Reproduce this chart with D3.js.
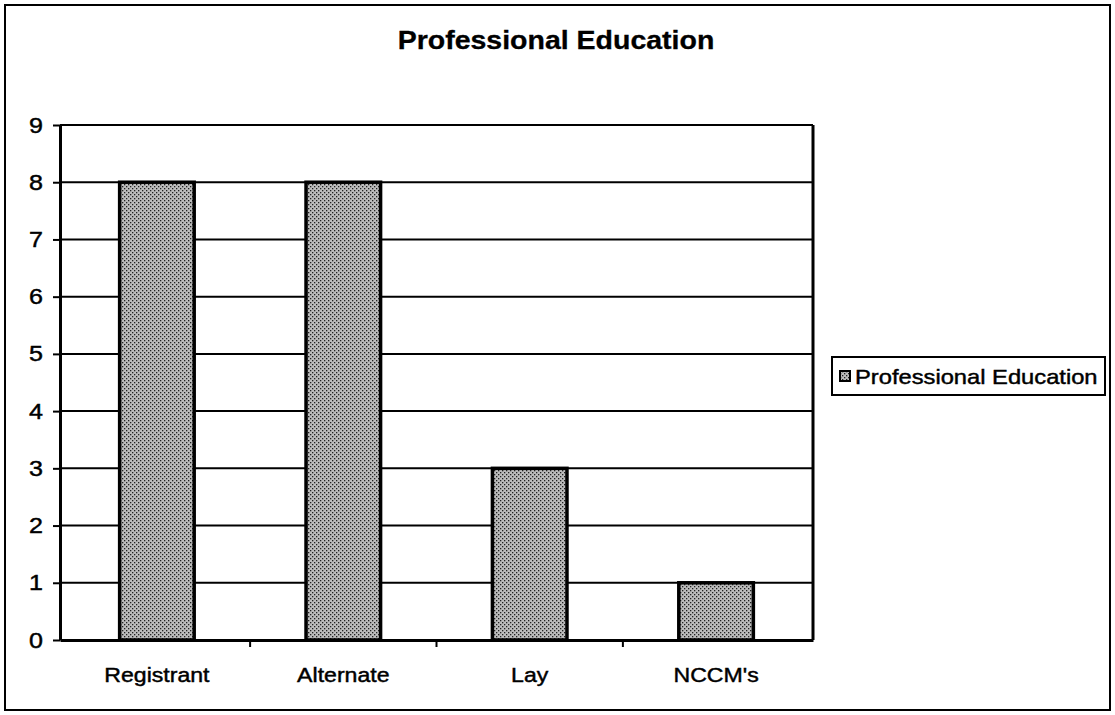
<!DOCTYPE html>
<meta charset="utf-8">
<style>
body { margin: 0; background: #fff; }
text { font-family: "Liberation Sans", Arial, sans-serif; fill: #000; stroke: #000; stroke-width: 0.45px; }
</style>
<body>
<script src="https://d3js.org/d3.v7.min.js"></script>
<script>

// data
var categories = ["Registrant", "Alternate", "Lay", "NCCM's"];
var values = [8, 8, 3, 1];
var yTicks = [0, 1, 2, 3, 4, 5, 6, 7, 8, 9];
var seriesName = "Professional Education";

var W = 1115, H = 715;
var margin = {top: 125, right: 302, bottom: 75, left: 60};
var stretch = "scale(1.14,1)";   // the scanned fonts look wide

var svg = d3.select("body").append("svg")
    .attr("width", W)
    .attr("height", H);

// dotted fill for the bars
var pat = svg.append("defs").append("pattern")
    .attr("id", "dots")
    .attr("patternUnits", "userSpaceOnUse")
    .attr("width", 4).attr("height", 4);
pat.append("rect").attr("width", 4).attr("height", 4).attr("fill", "#bcbcbc");
pat.append("rect").attr("x", 0).attr("y", 0).attr("width", 1.3).attr("height", 1.3).attr("fill", "#222");
pat.append("rect").attr("x", 2).attr("y", 2).attr("width", 1.3).attr("height", 1.3).attr("fill", "#222");

// outer chart border
svg.append("rect")
    .attr("x", 5).attr("y", 5)
    .attr("width", W - 10).attr("height", H - 10)
    .attr("fill", "none")
    .attr("stroke", "#000")
    .attr("stroke-width", 2);

var x = d3.scaleBand()
    .domain(categories)
    .range([margin.left, W - margin.right])
    .paddingInner(0.6)
    .paddingOuter(0.32);

var y = d3.scaleLinear()
    .domain([0, 9])
    .range([H - margin.bottom, margin.top]);

// title
svg.append("text")
    .attr("transform", "translate(556,49) " + stretch)
    .attr("text-anchor", "middle")
    .attr("font-size", "25px")
    .attr("font-weight", "bold")
    .style("stroke-width", "0.3px")
    .text("Professional Education");

// gridlines
svg.append("g")
  .selectAll("line")
  .data(yTicks.slice(1))
  .join("line")
    .attr("x1", x.range()[0])
    .attr("x2", x.range()[1])
    .attr("y1", function(d) { return y(d); })
    .attr("y2", function(d) { return y(d); })
    .attr("stroke", "#000")
    .attr("stroke-width", 2);

// right edge of plot area
svg.append("line")
    .attr("x1", x.range()[1]).attr("x2", x.range()[1])
    .attr("y1", y(9)).attr("y2", y(0))
    .attr("stroke", "#000")
    .attr("stroke-width", 3);

// bars
svg.append("g")
  .selectAll("rect")
  .data(values)
  .join("rect")
    .attr("x", function(d, i) { return x(categories[i]); })
    .attr("y", function(d) { return y(d); })
    .attr("width", x.bandwidth())
    .attr("height", function(d) { return y(0) - y(d); })
    .attr("fill", "url(#dots)")
    .attr("stroke", "#000")
    .attr("stroke-width", 3.5);

// y axis
var yAxis = svg.append("g")
    .attr("transform", "translate(" + margin.left + ",0)")
    .call(d3.axisLeft(y).tickValues(yTicks).tickSize(7).tickSizeOuter(0).tickPadding(8));
yAxis.select(".domain").attr("stroke-width", 3);
yAxis.selectAll(".tick line").attr("stroke-width", 2);
yAxis.selectAll("text")
    .attr("font-size", "22px")
    .attr("font-family", "Liberation Sans, Arial, sans-serif")
    .attr("transform", stretch);

// x axis, labels under each bar, tick marks between categories
var xAxis = svg.append("g")
    .attr("transform", "translate(0," + y(0) + ")")
    .call(d3.axisBottom(x).tickSize(0).tickPadding(27));
xAxis.select(".domain").attr("stroke-width", 3);
xAxis.selectAll("text")
    .attr("font-size", "21px")
    .attr("font-family", "Liberation Sans, Arial, sans-serif")
    .attr("transform", "scale(1.1,1)");

xAxis.selectAll(".sep")
  .data(categories.slice(0, -1))
  .join("line")
    .attr("class", "sep")
    .attr("x1", function(d) { return x(d) + x.bandwidth() / 2 + x.step() / 2; })
    .attr("x2", function(d) { return x(d) + x.bandwidth() / 2 + x.step() / 2; })
    .attr("y1", 0)
    .attr("y2", 7)
    .attr("stroke", "#000")
    .attr("stroke-width", 2);

// legend
var legend = svg.append("g").attr("transform", "translate(832,357)");
legend.append("rect")
    .attr("width", 273).attr("height", 38)
    .attr("fill", "#fff")
    .attr("stroke", "#000")
    .attr("stroke-width", 2);
legend.append("rect")
    .attr("x", 8).attr("y", 14)
    .attr("width", 10).attr("height", 10)
    .attr("fill", "url(#dots)")
    .attr("stroke", "#000")
    .attr("stroke-width", 2);
legend.append("text")
    .attr("transform", "translate(23,27) scale(1.13,1)")
    .attr("font-size", "21px")
    .text(seriesName);

</script>
</body>
